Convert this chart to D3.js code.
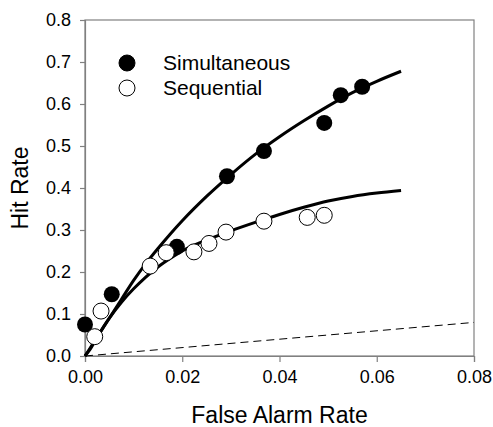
<!DOCTYPE html>
<html>
<head>
<meta charset="utf-8">
<script src="https://cdn.jsdelivr.net/npm/d3@7"></script>
<style>
  body { margin: 0; background: #fff; }
  text { font-family: "Liberation Sans", Arial, sans-serif; fill: #000; }
</style>
</head>
<body>
<svg id="chart" width="493" height="427"></svg>
<script>
// observed points
const simFA  = [0.0000, 0.0055, 0.0189, 0.0292, 0.0368, 0.0492, 0.0526, 0.0570];
const simHit = [0.075, 0.147, 0.260, 0.428, 0.488, 0.555, 0.621, 0.641];
const seqFA  = [0.0020, 0.0033, 0.0134, 0.0167, 0.0224, 0.0255, 0.0290, 0.0368, 0.0457, 0.0492];
const seqHit = [0.046, 0.107, 0.214, 0.246, 0.248, 0.268, 0.295, 0.321, 0.330, 0.335];

// fitted curves
const curveFA     = [0, 0.001, 0.0025, 0.005, 0.0075, 0.010, 0.0125, 0.015, 0.0175, 0.020, 0.025, 0.030, 0.035, 0.040, 0.045, 0.050, 0.055, 0.060, 0.065];
const simCurveHit = [0, 0.015, 0.045, 0.090, 0.135, 0.180, 0.220, 0.256, 0.290, 0.322, 0.380, 0.432, 0.480, 0.522, 0.560, 0.595, 0.627, 0.654, 0.678];
const seqCurveHit = [0, 0.018, 0.045, 0.090, 0.128, 0.160, 0.188, 0.212, 0.232, 0.250, 0.276, 0.298, 0.318, 0.337, 0.354, 0.369, 0.380, 0.388, 0.394];

// chance line
const chanceFA  = [0, 0.08];
const chanceHit = [0, 0.08];

const xTicks = [0, 0.02, 0.04, 0.06, 0.08];
const yTicks = [0, 0.1, 0.2, 0.3, 0.4, 0.5, 0.6, 0.7, 0.8];

const legendNames = ['Simultaneous', 'Sequential'];

const svg = d3.select('#chart');
const m = { left: 85, right: 474, top: 20, bottom: 356 };

const x = d3.scaleLinear().domain([0, 0.08]).range([m.left, m.right]);
const y = d3.scaleLinear().domain([0, 0.8]).range([m.bottom, m.top]);

const axisColor = '#808080';

// frame
svg.append('rect')
  .attr('x', m.left).attr('y', m.top)
  .attr('width', m.right - m.left).attr('height', m.bottom - m.top)
  .attr('fill', 'none').attr('stroke', axisColor).attr('stroke-width', 1.2);

// y axis
const yAxis = svg.append('g')
  .attr('transform', `translate(${m.left},0)`)
  .call(d3.axisLeft(y).tickValues(yTicks).tickFormat(d3.format('.1f')).tickSize(5).tickPadding(9));
// x axis
const xAxis = svg.append('g')
  .attr('transform', `translate(0,${m.bottom})`)
  .call(d3.axisBottom(x).tickValues(xTicks).tickFormat(d3.format('.2f')).tickSize(6).tickPadding(8));

[yAxis, xAxis].forEach(g => {
  g.select('.domain').attr('stroke', axisColor).attr('stroke-width', 1.2);
  g.selectAll('.tick line').attr('stroke', axisColor).attr('stroke-width', 1.2);
  g.selectAll('.tick text')
    .attr('fill', '#000')
    .style('font-family', '"Liberation Sans", Arial, sans-serif')
    .style('font-size', '18px');
});

// axis titles
svg.append('text')
  .attr('x', (m.left + m.right) / 2).attr('y', 423)
  .attr('text-anchor', 'middle')
  .style('font-size', '23px')
  .text('False Alarm Rate');

svg.append('text')
  .attr('transform', `translate(28,${(m.top + m.bottom) / 2}) rotate(-90)`)
  .attr('text-anchor', 'middle')
  .style('font-size', '23px')
  .text('Hit Rate');

// chance line
svg.append('line')
  .attr('x1', x(chanceFA[0])).attr('y1', y(chanceHit[0]))
  .attr('x2', x(chanceFA[1])).attr('y2', y(chanceHit[1]))
  .attr('stroke', '#000').attr('stroke-width', 1)
  .attr('stroke-dasharray', '8,5');

// fitted curves
const line = d3.line()
  .x(d => x(d[0]))
  .y(d => y(d[1]))
  .curve(d3.curveMonotoneX);

[simCurveHit, seqCurveHit].forEach(hits => {
  svg.append('path')
    .datum(curveFA.map((f, i) => [f, hits[i]]))
    .attr('d', line)
    .attr('fill', 'none')
    .attr('stroke', '#000')
    .attr('stroke-width', 3);
});

// points
svg.append('g').selectAll('circle')
  .data(simFA.map((f, i) => [f, simHit[i]]))
  .join('circle')
  .attr('cx', d => x(d[0])).attr('cy', d => y(d[1]))
  .attr('r', 8).attr('fill', '#000');

svg.append('g').selectAll('circle')
  .data(seqFA.map((f, i) => [f, seqHit[i]]))
  .join('circle')
  .attr('cx', d => x(d[0])).attr('cy', d => y(d[1]))
  .attr('r', 8).attr('fill', '#fff').attr('stroke', '#000').attr('stroke-width', 1);

// legend
const legend = svg.append('g');
legendNames.forEach((name, i) => {
  const cy = 63 + i * 25;
  legend.append('circle')
    .attr('cx', 127).attr('cy', cy).attr('r', 8)
    .attr('fill', i === 0 ? '#000' : '#fff')
    .attr('stroke', '#000').attr('stroke-width', 1);
  legend.append('text')
    .attr('x', 163).attr('y', cy + 7)
    .style('font-size', '21px')
    .text(name);
});
</script>
</body>
</html>
